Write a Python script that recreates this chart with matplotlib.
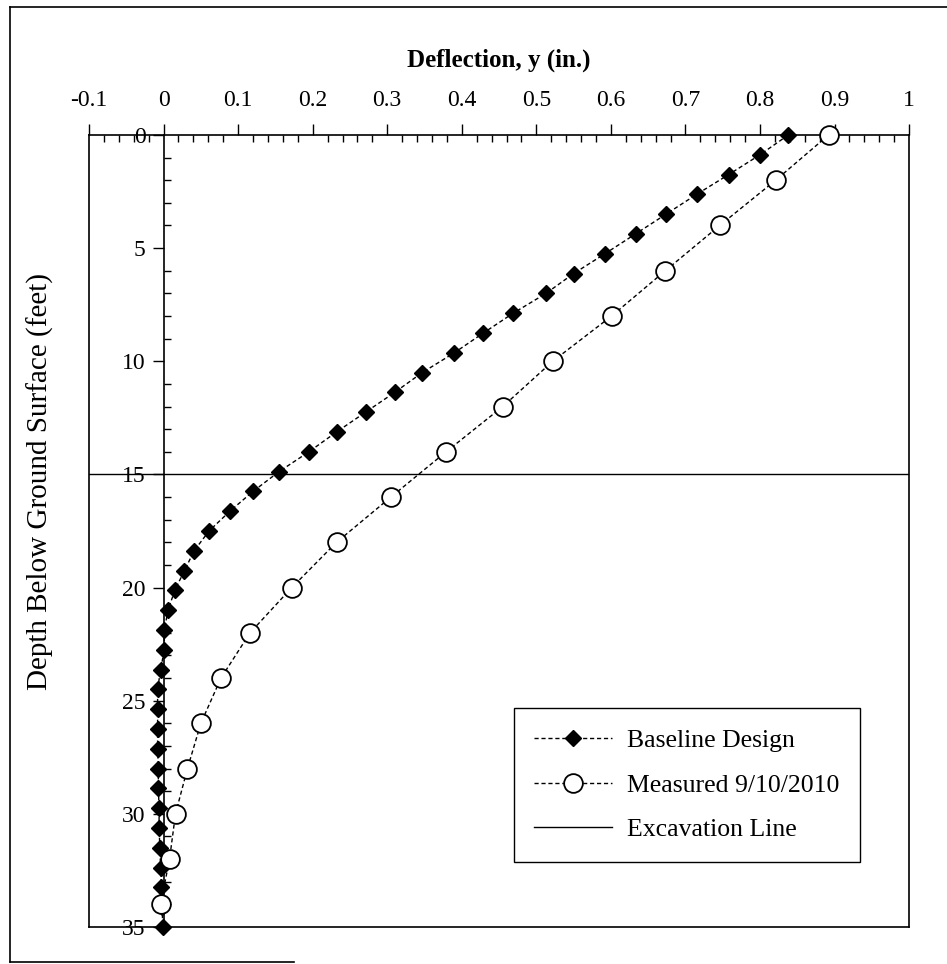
import numpy as np
import matplotlib.pyplot as plt
from matplotlib.lines import Line2D
from matplotlib.ticker import MultipleLocator

plt.rcParams['font.family'] = ['Liberation Serif', 'DejaVu Serif']

# Baseline design: deflection every 0.875 ft
base_depth = np.linspace(0, 35, 41)
base_defl = [0.838, 0.800, 0.758, 0.715, 0.674, 0.633, 0.592, 0.550, 0.513, 0.469,
             0.429, 0.390, 0.347, 0.310, 0.271, 0.232, 0.195, 0.155, 0.120, 0.089,
             0.061, 0.041, 0.028, 0.015, 0.006, 0.001, 0.001, -0.004, -0.008, -0.008,
             -0.008, -0.008, -0.007, -0.007, -0.006, -0.006, -0.005, -0.004, -0.003,
             -0.002, -0.001]

# Measured 9/10/2010: every 2 ft
meas_depth = np.arange(0, 35, 2)
meas_defl = [0.892, 0.821, 0.746, 0.673, 0.601, 0.522, 0.455, 0.379, 0.305, 0.232,
             0.172, 0.116, 0.077, 0.050, 0.032, 0.016, 0.008, -0.004]

excavation_depth = 15

fig = plt.figure(figsize=(9.47, 9.64), dpi=100)
ax = fig.add_axes([0.094, 0.0384, 0.866, 0.8216])

ax.plot(base_defl, base_depth, color='black', linestyle=(0, (3, 2)), linewidth=1,
        marker='D', markersize=8, markerfacecolor='black', markeredgecolor='black',
        label='Baseline Design', zorder=3, clip_on=False)
ax.plot(meas_defl, meas_depth, color='black', linestyle=(0, (3, 2)), linewidth=1,
        marker='o', markersize=13.5, markerfacecolor='white', markeredgecolor='black',
        markeredgewidth=1.3, label='Measured 9/10/2010', zorder=4, clip_on=False)
ax.axhline(excavation_depth, color='black', linewidth=1, label='Excavation Line', zorder=2)

ax.set_xlim(-0.1, 1)
ax.set_ylim(35, 0)

# x axis on top
ax.xaxis.set_ticks_position('top')
ax.xaxis.set_label_position('top')
ax.xaxis.set_minor_locator(MultipleLocator(0.02))
xt = np.round(np.arange(-0.1, 1.01, 0.1), 1)
ax.set_xticks(xt)
ax.set_xticklabels(['%g' % v for v in xt])
ax.set_xlabel('Deflection, y (in.)', fontsize=18, fontweight='bold', labelpad=17)

# y axis through x = 0
ax.spines['left'].set_position(('data', 0))
ax.axvline(-0.1, color='black', linewidth=1.2, clip_on=False)
ax.yaxis.set_major_locator(MultipleLocator(5))
ax.yaxis.set_minor_locator(MultipleLocator(1))

ax.tick_params(which='major', direction='out', length=8, width=1, labelsize=17, pad=5)
ax.tick_params(which='minor', direction='in', length=5, width=1)
ax.tick_params(axis='x', which='major', pad=9)
for s in ax.spines.values():
    s.set_linewidth(1.2)

fig.text(0.043, 0.50, 'Depth Below Ground Surface (feet)', rotation=90,
         fontsize=21, ha='center', va='center')

leg = ax.legend(loc='lower right', bbox_to_anchor=(0.94, 0.082), borderaxespad=0,
                fontsize=18.5, frameon=True, fancybox=False, edgecolor='black',
                framealpha=1, handlelength=3.0, handletextpad=0.6, labelspacing=0.85,
                borderpad=0.8)
leg.get_frame().set_linewidth(1)

# outer frame of the scanned page
fig.add_artist(Line2D([0.011, 0.011], [0.002, 0.993], color='black', linewidth=1.2))
fig.add_artist(Line2D([0.011, 1.0], [0.993, 0.993], color='black', linewidth=1.2))
fig.add_artist(Line2D([0.011, 0.31], [0.002, 0.002], color='black', linewidth=1.2))

fig.savefig('out.png', dpi=100)
